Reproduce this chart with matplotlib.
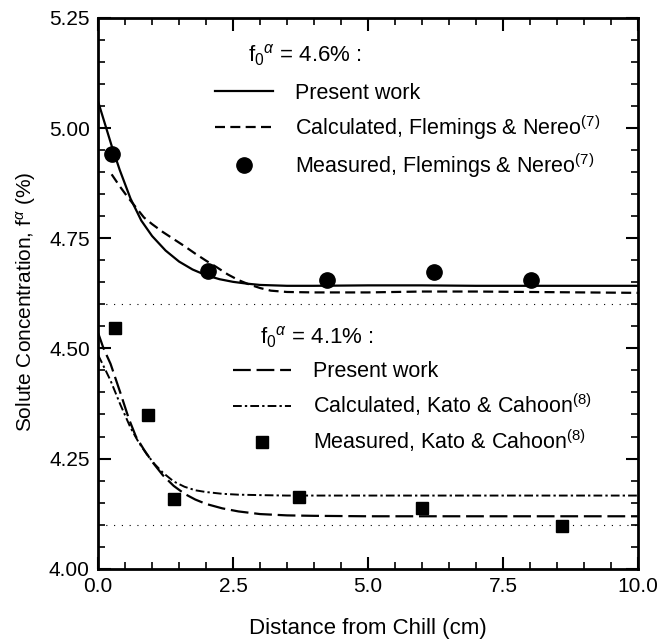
import matplotlib
matplotlib.use("Agg")
import matplotlib.pyplot as plt
from matplotlib.ticker import MultipleLocator

plt.rcParams['font.family'] = ['Liberation Sans', 'DejaVu Sans']
plt.rcParams['mathtext.fontset'] = 'custom'
plt.rcParams['mathtext.rm'] = 'Liberation Sans'
plt.rcParams['mathtext.it'] = 'Liberation Sans:italic'

# f0 = 4.6 %
fn_x_meas = [0.25, 2.04, 4.24, 6.23, 8.03]
fn_y_meas = [4.942, 4.676, 4.656, 4.674, 4.656]

pw46_x = [0, 0.1, 0.25, 0.4, 0.6, 0.8, 1.0, 1.25, 1.5, 1.75, 2.0, 2.25, 2.5,
          2.75, 3.0, 3.5, 4, 5, 6, 7, 8, 9, 10]
pw46_y = [5.060, 5.020, 4.960, 4.905, 4.840, 4.790, 4.755, 4.722, 4.697,
          4.679, 4.666, 4.657, 4.651, 4.647, 4.644, 4.642, 4.642, 4.643,
          4.643, 4.642, 4.642, 4.642, 4.642]

fn_x_calc = [0.25, 0.4, 0.55, 0.7, 0.85, 1.0, 1.2, 1.4, 1.6, 1.8, 2.0, 2.2,
             2.4, 2.6, 2.8, 3.0, 3.2, 3.5, 4, 5, 6, 7, 8, 9, 10]
fn_y_calc = [4.895, 4.868, 4.843, 4.820, 4.797, 4.782, 4.764, 4.748, 4.732,
             4.715, 4.699, 4.684, 4.668, 4.655, 4.645, 4.637, 4.631, 4.628,
             4.627, 4.627, 4.629, 4.629, 4.628, 4.627, 4.626]

# f0 = 4.1 %
kc_x_meas = [0.32, 0.92, 1.41, 3.73, 6.01, 8.60]
kc_y_meas = [4.546, 4.349, 4.159, 4.162, 4.138, 4.098]

pw41_x = [0, 0.1, 0.23, 0.41, 0.57, 0.7, 0.85, 1.0, 1.2, 1.4, 1.6, 1.8, 2.0,
          2.3, 2.6, 3.0, 3.5, 4, 5, 6, 7, 8, 9, 10]
pw41_y = [4.535, 4.500, 4.465, 4.400, 4.340, 4.300, 4.270, 4.243, 4.212,
          4.188, 4.170, 4.157, 4.147, 4.137, 4.130, 4.124, 4.121, 4.120,
          4.119, 4.119, 4.119, 4.119, 4.119, 4.119]

kc_x_calc = [0, 0.1, 0.23, 0.41, 0.6, 0.75, 0.9, 1.05, 1.2, 1.4, 1.6, 1.8,
             2.0, 2.3, 2.6, 3.0, 3.5, 4, 5, 6, 7, 8, 9, 10]
kc_y_calc = [4.485, 4.460, 4.427, 4.373, 4.320, 4.287, 4.260, 4.237, 4.218,
             4.198, 4.186, 4.178, 4.174, 4.170, 4.168, 4.167, 4.166, 4.166,
             4.166, 4.166, 4.166, 4.166, 4.166, 4.166]

f0_levels = [4.6, 4.1]

fig = plt.figure(figsize=(6.63, 6.39), dpi=100)
ax = fig.add_axes([0.148, 0.110, 0.814, 0.862])

for lvl in f0_levels:
    ax.axhline(lvl, color='black', lw=0.8, ls=(0, (1, 6)))

l1, = ax.plot(pw46_x, pw46_y, color='black', lw=1.6)
l2, = ax.plot(fn_x_calc, fn_y_calc, color='black', lw=1.6, dashes=(4.5, 2.4))
l3, = ax.plot(fn_x_meas, fn_y_meas, 'o', color='black', ms=11, ls='none')

l4, = ax.plot(pw41_x, pw41_y, color='black', lw=1.6, dashes=(8, 2.6))
l5, = ax.plot(kc_x_calc, kc_y_calc, color='black', lw=1.4,
              dashes=(4.5, 1.6, 1.2, 1.6))
l6, = ax.plot(kc_x_meas, kc_y_meas, 's', color='black', ms=8.5, ls='none')

ax.set_xlim(0, 10)
ax.set_ylim(4.0, 5.25)
ax.xaxis.set_major_locator(MultipleLocator(2.5))
ax.xaxis.set_minor_locator(MultipleLocator(0.5))
ax.yaxis.set_major_locator(MultipleLocator(0.25))
ax.yaxis.set_minor_locator(MultipleLocator(0.05))
ax.xaxis.set_major_formatter(lambda v, p: f"{v:.1f}")
ax.yaxis.set_major_formatter(lambda v, p: f"{v:.2f}")
ax.tick_params(which='both', direction='in', top=True, right=True,
               labelsize=15)
ax.tick_params(which='major', length=9, width=1.5, pad=6)
ax.tick_params(which='minor', length=5, width=1.2)
for s in ax.spines.values():
    s.set_linewidth(2)

ax.set_xlabel('Distance from Chill (cm)', fontsize=16, labelpad=16)
ax.set_ylabel(r'Solute Concentration, $\mathrm{f}^{\alpha}$ (%)',
              fontsize=15)
ax.yaxis.set_label_coords(-0.111, 0.484)

leg_kw = dict(loc='upper left', frameon=False, borderpad=0, borderaxespad=0,
              handlelength=2.7, handletextpad=1.0, labelspacing=0.44,
              fontsize=15.5, numpoints=1)

ax.text(0.278, 0.933, r'$\mathrm{f_0}^{\alpha}$ = 4.6% :', fontsize=16,
        transform=ax.transAxes, va='center')
leg1 = ax.legend([l1, l2, l3],
                 ['Present work',
                  r'Calculated, Flemings & Nereo$^{\mathrm{(7)}}$',
                  r'Measured, Flemings & Nereo$^{\mathrm{(7)}}$'],
                 bbox_to_anchor=(0.217, 0.882), **leg_kw)
ax.add_artist(leg1)

ax.text(0.30, 0.421, r'$\mathrm{f_0}^{\alpha}$ = 4.1% :', fontsize=16,
        transform=ax.transAxes, va='center')
ax.legend([l4, l5, l6],
          ['Present work',
           r'Calculated, Kato & Cahoon$^{\mathrm{(8)}}$',
           r'Measured, Kato & Cahoon$^{\mathrm{(8)}}$'],
          bbox_to_anchor=(0.25, 0.377), **leg_kw)

fig.savefig('out.png', dpi=100)
